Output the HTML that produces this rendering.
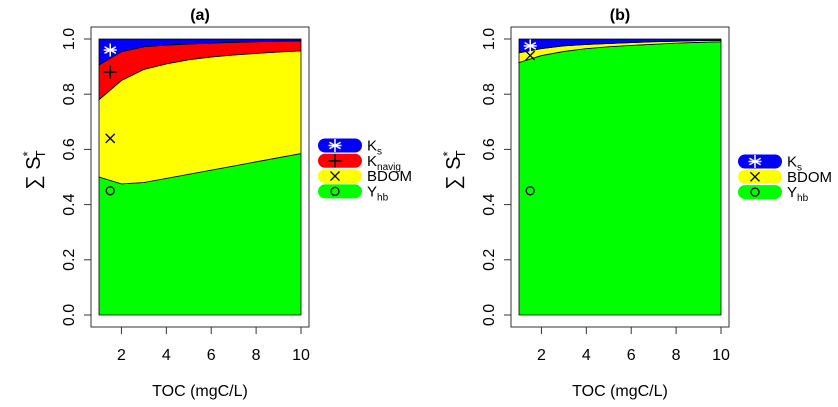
<!DOCTYPE html>
<html><head><meta charset="utf-8"><style>
body{margin:0;background:#fff;}
svg{display:block;font-family:"Liberation Sans",sans-serif;}
</style></head><body>
<svg id="chart" width="838" height="407" viewBox="0 0 838 407"></svg>
<script>
const xs=[1,2,3,4,5,6,7,8,9,10];
const aGreen=[0.50,0.475,0.48,0.495,0.51,0.525,0.54,0.555,0.57,0.585];
const aYellow=[0.78,0.85,0.89,0.91,0.925,0.935,0.942,0.948,0.953,0.957];
const aRed=[0.906,0.954,0.972,0.978,0.982,0.985,0.988,0.99,0.992,0.993];
const aBlue=[1,1,1,1,1,1,1,1,1,1];
const bGreen=[0.915,0.94,0.955,0.965,0.972,0.977,0.981,0.985,0.988,0.99];
const bYellow=[0.95,0.965,0.975,0.98,0.984,0.987,0.99,0.992,0.994,0.995];
const bBlue=[1,1,1,1,1,1,1,1,1,1];
const xTicks=[2,4,6,8,10];
const yTicks=[0,0.2,0.4,0.6,0.8,1.0];
const aMarkers=[["star",1.5,0.96],["plus",1.5,0.88],["cross",1.5,0.64],["circle",1.5,0.45]];
const bMarkers=[["star",1.5,0.975],["cross",1.5,0.94],["circle",1.5,0.45]];
const aLegend=[["#0000ff","star","K","s"],["#ff0000","plus","K","navig"],["#ffff00","cross","BDOM",""],["#00ff00","circle","Y","hb"]];
const bLegend=[["#0000ff","star","K","s"],["#ffff00","cross","BDOM",""],["#00ff00","circle","Y","hb"]];

const svg=document.getElementById('chart');
const NS='http://www.w3.org/2000/svg';
function mk(tag,attrs,parent){const e=document.createElementNS(NS,tag);for(const k in attrs)e.setAttribute(k,attrs[k]);(parent||svg).appendChild(e);return e;}

function marker(type,cx,cy,color,g){
  const s=6.5;
  if(type==='star'){
    for(const a of [0,60,120]){const r=a*Math.PI/180;mk('line',{x1:cx-s*Math.cos(r+Math.PI/2),y1:cy-s*Math.sin(r+Math.PI/2),x2:cx+s*Math.cos(r+Math.PI/2),y2:cy+s*Math.sin(r+Math.PI/2),stroke:color,'stroke-width':1.5},g);}
    mk('line',{x1:cx-s,y1:cy,x2:cx+s,y2:cy,stroke:color,'stroke-width':1.5},g);
  }else if(type==='plus'){
    mk('line',{x1:cx-6.5,y1:cy,x2:cx+6.5,y2:cy,stroke:color,'stroke-width':1.5},g);
    mk('line',{x1:cx,y1:cy-6.5,x2:cx,y2:cy+6.5,stroke:color,'stroke-width':1.5},g);
  }else if(type==='cross'){
    mk('line',{x1:cx-4.5,y1:cy-4.5,x2:cx+4.5,y2:cy+4.5,stroke:color,'stroke-width':1.3},g);
    mk('line',{x1:cx-4.5,y1:cy+4.5,x2:cx+4.5,y2:cy-4.5,stroke:color,'stroke-width':1.3},g);
  }else{
    mk('circle',{cx:cx,cy:cy,r:4,fill:'none',stroke:color,'stroke-width':1.3},g);
  }
}

function panel(off,title,layers,markers,legend,name){
  const g=mk('g',{});
  
  
  const X=v=>off+99+(v-1)*(301-99)/9;
  const Y=v=>315-v*(315-39);
  let prev=xs.map(()=>0);
  for(const [vals,col,nm] of layers){
    let d='M'+xs.map((x,i)=>X(x)+','+Y(vals[i])).join(' L');
    for(let i=xs.length-1;i>=0;i--)d+=' L'+X(xs[i])+','+Y(prev[i]);
    d+=' Z';
    const p=mk('path',{d:d,fill:col,stroke:'#000','stroke-width':0.8},g);
    
    
    prev=vals;
  }
  for(const [t,x,y] of markers){marker(t,X(x),Y(y),t==='star'?'#fff':'#000',g);}
  const box=mk('rect',{x:off+91,y:27,width:218,height:300,fill:'none',stroke:'#333','stroke-width':1},g);
  
  
  for(const t of xTicks){
    mk('line',{x1:X(t),y1:327,x2:X(t),y2:334,stroke:'#333'},g);
    const tx=mk('text',{x:X(t),y:360,'font-size':16,'text-anchor':'middle'},g);tx.textContent=t;
    
    
  }
  for(const t of yTicks){
    mk('line',{x1:off+84,y1:Y(t),x2:off+91,y2:Y(t),stroke:'#333'},g);
    const tx=mk('text',{x:off+74,y:Y(t),'font-size':16,'text-anchor':'middle',transform:`rotate(-90 ${off+74} ${Y(t)})`},g);tx.textContent=t.toFixed(1);
    
    
  }
  const tt=mk('text',{x:off+200,y:20,'font-size':16,'font-weight':'bold','text-anchor':'middle'},g);tt.textContent=title;
  
  
  const xl=mk('text',{x:off+200,y:396,'font-size':16,'text-anchor':'middle'},g);xl.textContent='TOC (mgC/L)';
  
  
  const yl=mk('text',{x:off+40,y:170,'font-size':20,'text-anchor':'middle',transform:`rotate(-90 ${off+40} 170)`},g);
  yl.innerHTML='∑ S<tspan dy="-8" font-size="13">*</tspan><tspan dy="13" dx="-7" font-size="13">T</tspan>';
  
  
  const n=legend.length;
  const y0=n===4?145.5:161.5;
  legend.forEach(([col,t,lab,sub],i)=>{
    const cy=y0+i*15.3;
    const r=mk('rect',{x:off+318,y:cy-7,width:44,height:14,rx:7,fill:col},g);
    
    
    marker(t,off+335,cy,t==='star'?'#fff':'#000',g);
    const tx=mk('text',{x:off+367,y:cy+5,'font-size':15},g);
    tx.innerHTML=lab+(sub?`<tspan dy="4" font-size="10">${sub}</tspan>`:'');
    
    
  });
}
panel(0,'(a)',[[aGreen,'#00ff00','area-yhb'],[aYellow,'#ffff00','area-bdom'],[aRed,'#ff0000','area-knavig'],[aBlue,'#0000ff','area-ks']],aMarkers,aLegend,'panel-a');
panel(420,'(b)',[[bGreen,'#00ff00','area-yhb'],[bYellow,'#ffff00','area-bdom'],[bBlue,'#0000ff','area-ks']],bMarkers,bLegend,'panel-b');
</script>
</body></html>
